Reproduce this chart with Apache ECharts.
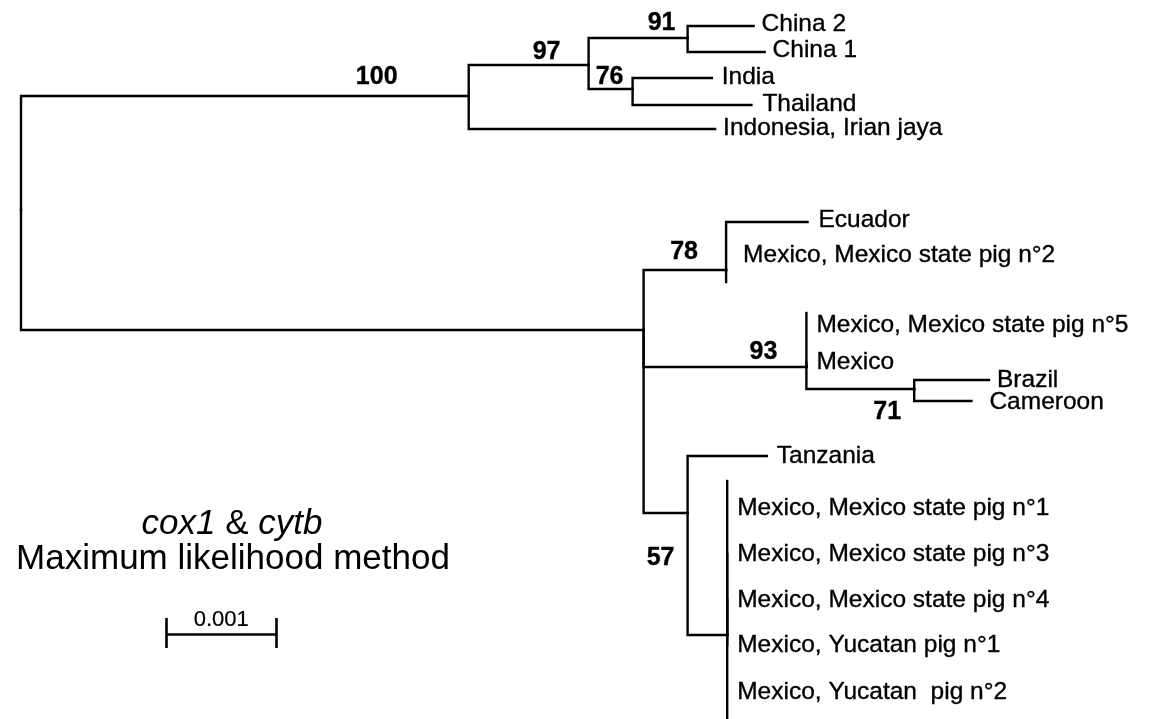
<!DOCTYPE html>
<html>
<head>
<meta charset="utf-8">
<script src="https://cdn.jsdelivr.net/npm/echarts@6/dist/echarts.min.js"></script>
<style>html,body{margin:0;padding:0;background:#fff;}#c{width:1157px;height:719px;}</style>
</head>
<body>
<div id="c"></div>
<script>
// ---- Tree data (branch lengths in substitutions/site, rows = vertical tip order) ----
const nodeIds = ['root','A','B','C','China2','China1','D','India','Thailand','Indonesia',
  'E','F','Ecuador','MxPig2','G','MxPig5','Mexico','H','Brazil','Cameroon',
  'I','Tanzania','J','MxPig1','MxPig3','MxPig4','YucPig1','YucPig2'];
const nodeParents = [null,'root','A','B','C','C','B','D','D','A',
  'root','E','F','F','E','G','G','G','H','H',
  'E','I','I','J','J','J','J','J'];
const branchLengths = [0,0.00407,0.00109,0.00090,0.00060,0.00070,0.00040,0.00072,0.00108,0.00224,
  0.00566,0.00075,0.00074,0,0.00148,0,0,0.00098,0.00068,0.00052,
  0.00040,0.00072,0.00036,0,0,0,0,0];
const nodeRows = [21,9.6,6.5,3.8,2.6,5.2,8.9,7.8,10.5,12.9,
  33.0,27.0,22.2,28.2,36.7,31.3,36.2,38.9,38.0,40.1,
  51.3,45.6,63.5,48.1,55.4,60.0,64.5,71.9];
const tipLabels = ['','','','','China 2','China 1','','India','Thailand','Indonesia, Irian jaya',
  '','','Ecuador','Mexico, Mexico state pig n°2','','Mexico, Mexico state pig n°5','Mexico','','Brazil','Cameroon',
  '','Tanzania','','Mexico, Mexico state pig n°1','Mexico, Mexico state pig n°3','Mexico, Mexico state pig n°4',
  'Mexico, Yucatan pig n°1','Mexico, Yucatan  pig n°2'];
const labelRows = [0,0,0,0,2.4,5.0,0,7.7,10.4,12.8,
  0,0,22.0,25.5,0,32.5,36.2,0,38.0,40.2,
  0,45.6,0,50.8,55.4,60.0,64.5,69.2];
const bootstrapNodes = ['A','B','C','D','F','G','H','I'];
const bootstrapValues = [100,97,91,76,78,93,71,57];
const scaleBarLength = 0.001;
const scaleBarLabel = '0.001';
const titleLine1 = '{i|cox1} & {i|cytb}';
const titleLine2 = 'Maximum likelihood method';

// ---- Styles (pixel offsets) ----
const bootstrapOffsets = [[-92,-19],[-42,-13],[-26,-15],[-23,-12],[-42,-18],[-43,-15],[-27,23],[-27,45]];
const labelGaps = {China2:8,China1:8,India:10,Thailand:11,Indonesia:8,Ecuador:11,MxPig2:17,MxPig5:10,
  Mexico:10,Brazil:8,Cameroon:18,Tanzania:10,MxPig1:10,MxPig3:10,MxPig4:10,YucPig1:10,YucPig2:10};
const scaleBarStart = 0.00132, scaleBarRow = 63.4, scaleTickTop = 61.8, scaleTickBottom = 64.8, scaleLabelRow = 61.95;
const FONT = '"Liberation Sans", Arial, Helvetica, sans-serif';
const INK = '#000000';

// ---- Build tree coordinates ----
const idx = {};
nodeIds.forEach((id,i)=>idx[id]=i);
const xs = new Array(nodeIds.length).fill(0);
function depth(i){
  if (nodeParents[i]===null) return 0;
  return depth(idx[nodeParents[i]]) + branchLengths[i];
}
nodeIds.forEach((id,i)=>{ xs[i]=depth(i); });

const edges = [];
nodeIds.forEach((id,i)=>{
  const p = nodeParents[i];
  if (p===null) return;
  const pi = idx[p];
  edges.push({coords:[[xs[pi], nodeRows[pi]],[xs[pi], nodeRows[i]],[xs[i], nodeRows[i]]]});
});

const tipData = [];
nodeIds.forEach((id,i)=>{
  if (!tipLabels[i]) return;
  tipData.push({value:[xs[i], labelRows[i]], name: tipLabels[i], label:{distance: labelGaps[id] || 10}});
});

const bootData = bootstrapNodes.map((id,k)=>{
  const i = idx[id];
  return {value:[xs[i], nodeRows[i]], name:String(bootstrapValues[k]),
    label:{position: bootstrapOffsets[k]}};
});

const scaleBar = [
  {coords:[[scaleBarStart, scaleBarRow],[scaleBarStart+scaleBarLength, scaleBarRow]]},
  {coords:[[scaleBarStart, scaleTickTop],[scaleBarStart, scaleTickBottom]]},
  {coords:[[scaleBarStart+scaleBarLength, scaleTickTop],[scaleBarStart+scaleBarLength, scaleTickBottom]]}
];

const textBase = {show:true, color:INK, opacity:1, fontFamily:FONT, textBorderColor:INK, textBorderWidth:0.35};

const chart = echarts.init(document.getElementById('c'), null, {renderer:'canvas'});
chart.setOption({
  animation:false,
  backgroundColor:'#ffffff',
  grid:{left:21, right:36, top:0, bottom:0, containLabel:false},
  xAxis:{type:'value', min:0, max:0.01, show:false},
  yAxis:{type:'value', min:0, max:71.9, inverse:true, show:false},
  graphic:[
    {type:'text', x:232, y:524, style:{text:titleLine1, font:'35px '+FONT, fill:INK,
      align:'center', verticalAlign:'middle', rich:{i:{fontStyle:'italic', fontSize:35, fontFamily:FONT, fill:INK}}}},
    {type:'text', x:233, y:559, style:{text:titleLine2, font:'35px '+FONT, fill:INK, align:'center', verticalAlign:'middle'}}
  ],
  series:[
    {type:'lines', coordinateSystem:'cartesian2d', polyline:true, silent:true, clip:false,
     lineStyle:{color:INK, width:2.4, opacity:1, cap:'square', join:'miter'},
     data: edges},
    {type:'lines', coordinateSystem:'cartesian2d', polyline:false, silent:true,
     lineStyle:{color:INK, width:2.6, opacity:1, cap:'butt'},
     data: scaleBar},
    {type:'scatter', symbolSize:0, itemStyle:{color:INK}, silent:true,
     label:Object.assign({}, textBase, {position:'right', formatter:p=>p.name, fontSize:24.5, verticalAlign:'middle'}),
     data: tipData},
    {type:'scatter', symbolSize:0, itemStyle:{color:INK}, silent:true,
     label:Object.assign({}, textBase, {formatter:p=>p.name, fontSize:25, fontWeight:'bold', align:'center', verticalAlign:'middle'}),
     data: bootData},
    {type:'scatter', symbolSize:0, itemStyle:{color:INK}, silent:true,
     label:Object.assign({}, textBase, {position:'inside', formatter:()=>scaleBarLabel, fontSize:22, align:'center', verticalAlign:'middle', textBorderWidth:0.2}),
     data:[[scaleBarStart+scaleBarLength/2, scaleLabelRow]]}
  ]
});
</script>
</body>
</html>
